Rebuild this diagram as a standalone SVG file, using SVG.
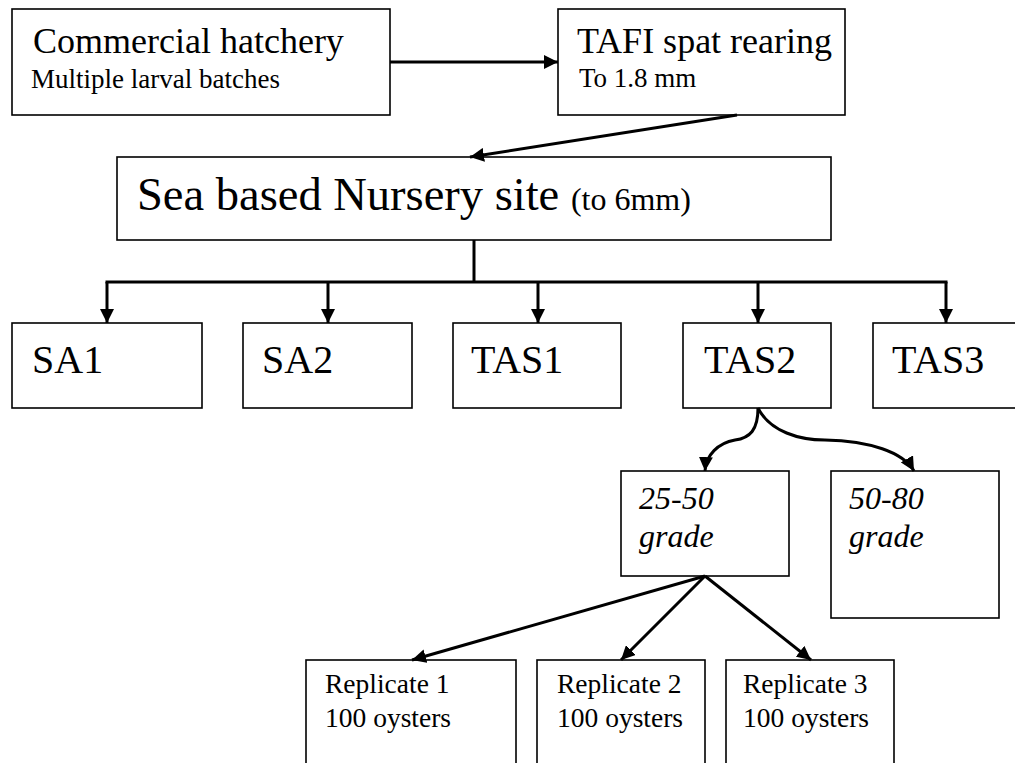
<svg xmlns="http://www.w3.org/2000/svg" width="1015" height="763" viewBox="0 0 1015 763">
<style>
  .box { fill: #ffffff; stroke: #000000; stroke-width: 1.6; }
  .t { font-family: "Liberation Serif", "Times New Roman", serif; fill: #000000; }
  .it { font-style: italic; }
  .conn { fill: none; stroke: #000000; stroke-width: 3; }
  .arr { fill: none; stroke: #000000; stroke-width: 3; marker-end: url(#ah); }
</style>
<defs>
  <marker id="ah" viewBox="0 0 14 14" refX="14" refY="7" markerWidth="14" markerHeight="14" markerUnits="userSpaceOnUse" orient="auto">
    <path d="M0,0 L14,7 L0,14 Z" fill="#000000"/>
  </marker>
</defs>
<rect width="1015" height="763" fill="#ffffff"/>

<g id="n-hatchery">
  <rect class="box" x="12" y="9" width="378" height="106"/>
  <text class="t" x="33" y="53" font-size="36">Commercial hatchery</text>
  <text class="t" x="31" y="88" font-size="27">Multiple larval batches</text>
</g>
<g id="n-tafi">
  <rect class="box" x="558" y="9" width="287" height="106"/>
  <text class="t" x="577" y="53" font-size="36">TAFI spat rearing</text>
  <text class="t" x="579" y="87" font-size="27">To 1.8 mm</text>
</g>
<g id="n-nursery">
  <rect class="box" x="117" y="157" width="714" height="83"/>
  <text class="t" x="137" y="210" font-size="46.5">Sea based Nursery site <tspan font-size="32">(to 6mm)</tspan></text>
</g>
<g id="n-sa1">
  <rect class="box" x="12" y="323" width="190" height="85"/>
  <text class="t" x="32" y="373" font-size="40">SA1</text>
</g>
<g id="n-sa2">
  <rect class="box" x="243" y="323" width="169" height="85"/>
  <text class="t" x="262" y="373" font-size="40">SA2</text>
</g>
<g id="n-tas1">
  <rect class="box" x="453" y="323" width="168" height="85"/>
  <text class="t" x="471" y="373" font-size="40">TAS1</text>
</g>
<g id="n-tas2">
  <rect class="box" x="683" y="323" width="148" height="85"/>
  <text class="t" x="704" y="373" font-size="40">TAS2</text>
</g>
<g id="n-tas3">
  <rect class="box" x="873" y="323" width="160" height="85"/>
  <text class="t" x="892" y="373" font-size="40">TAS3</text>
</g>
<g id="n-g2550">
  <rect class="box" x="621" y="471" width="168" height="105"/>
  <text class="t it" x="639" y="509" font-size="32">25-50</text>
  <text class="t it" x="639" y="547" font-size="32">grade</text>
</g>
<g id="n-g5080">
  <rect class="box" x="831" y="471" width="168" height="147"/>
  <text class="t it" x="849" y="509" font-size="32">50-80</text>
  <text class="t it" x="849" y="547" font-size="32">grade</text>
</g>
<g id="n-rep1">
  <rect class="box" x="306" y="660" width="210" height="112"/>
  <text class="t" x="325" y="693" font-size="27.5">Replicate 1</text>
  <text class="t" x="325" y="727" font-size="27.5">100 oysters</text>
</g>
<g id="n-rep2">
  <rect class="box" x="537" y="660" width="168" height="112"/>
  <text class="t" x="557" y="693" font-size="27.5">Replicate 2</text>
  <text class="t" x="557" y="727" font-size="27.5">100 oysters</text>
</g>
<g id="n-rep3">
  <rect class="box" x="726" y="660" width="168" height="112"/>
  <text class="t" x="743" y="693" font-size="27.5">Replicate 3</text>
  <text class="t" x="743" y="727" font-size="27.5">100 oysters</text>
</g>

<g id="connectors">
  <path class="arr" d="M390,62 L558,62"/>
  <path class="arr" d="M737,115 L470,157"/>
  <path class="conn" d="M474,240 L474,282"/>
  <path class="conn" d="M105.5,282 L947.5,282"/>
  <path class="arr" d="M107,282 L107,323"/>
  <path class="arr" d="M328,282 L328,323"/>
  <path class="arr" d="M538,282 L538,323"/>
  <path class="arr" d="M758,282 L758,323"/>
  <path class="arr" d="M946,282 L946,323"/>
  <path class="arr" d="M758,408 C758,430 750,438 735,440 C718,443 706,455 705,471"/>
  <path class="arr" d="M758,408 C770,432 800,440 825,440 C870,441 903,452 914,471"/>
  <path class="arr" d="M705,576 L412,660"/>
  <path class="arr" d="M705,576 L621,660"/>
  <path class="arr" d="M705,576 L811,660"/>
</g>
</svg>
